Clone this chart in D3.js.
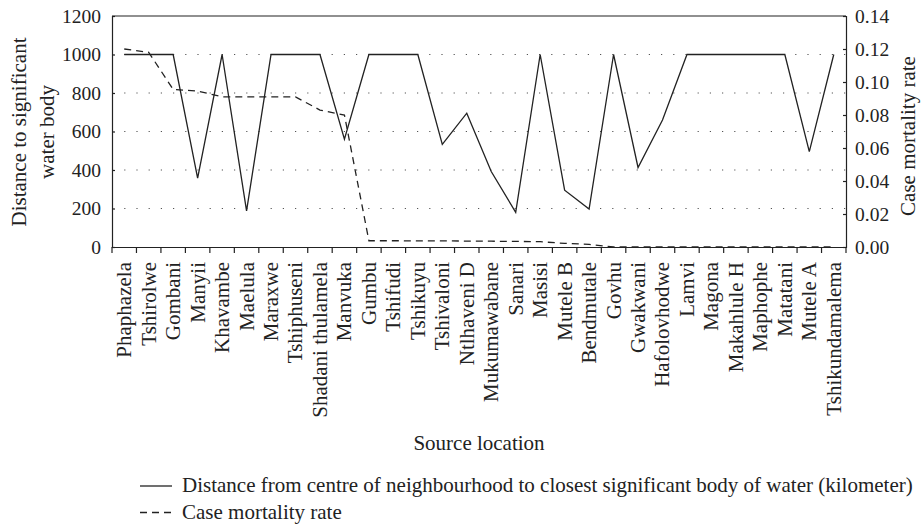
<!DOCTYPE html>
<html><head><meta charset="utf-8">
<script src="https://cdn.jsdelivr.net/npm/d3@7"></script>
<style>body{margin:0;background:#fff}svg{display:block}text{font-family:"Liberation Serif","Times New Roman",serif;fill:#222}</style>
</head><body>
<script>
const categories = ["Phaphazela","Tshirolwe","Gombani","Manyii","Khavambe","Maelula","Maraxwe","Tshiphuseni","Shadani thulamela","Manvuka","Gumbu","Tshifudi","Tshikuyu","Tshivaloni","Ntlhaveni D","Mukumawabane","Sanari","Masisi","Mutele B","Bendmutale","Govhu","Gwakwani","Hafolovhodwe","Lamvi","Magona","Makahlule H","Maphophe","Matatani","Mutele A","Tshikundamalema"];
const distance = [1000,1000,1000,358,1000,188,1000,1000,1000,560,1000,1000,1000,533,695,392,180,1000,295,197,1000,413,660,1000,1000,1000,1000,1000,495,1000];
const mortality = [0.120,0.118,0.0955,0.0945,0.091,0.091,0.091,0.091,0.083,0.080,0.0038,0.0038,0.0037,0.0037,0.0036,0.0035,0.0034,0.0032,0.0022,0.0016,0,0,0,0,0,0,0,0,0,0];
const leftTicks = [0,200,400,600,800,1000,1200];
const rightTicks = [0,0.02,0.04,0.06,0.08,0.10,0.12,0.14];
const legendLabels = ["Distance from centre of neighbourhood to closest significant body of water (kilometer)","Case mortality rate"];

const W=921,H=527, m={l:112,r:75,t:16,b:280};
const svg=d3.select("body").append("svg").attr("width",W).attr("height",H);
const x=d3.scaleBand().domain(categories).range([m.l,W-m.r]);
const y=d3.scaleLinear().domain([0,1200]).range([H-m.b,m.t]);
const y2=d3.scaleLinear().domain([0,0.14]).range([H-m.b,m.t]);
const ink="#222";

svg.append("g").selectAll("line").data(leftTicks.filter(d=>d>0&&d<1200)).join("line")
 .attr("x1",m.l).attr("x2",W-m.r).attr("y1",d=>y(d)).attr("y2",d=>y(d))
 .attr("stroke","#555").attr("stroke-width",1.2).attr("stroke-dasharray","1.2,11");

svg.append("line").attr("x1",m.l).attr("x2",W-m.r).attr("y1",m.t).attr("y2",m.t).attr("stroke",ink).attr("stroke-width",1.2);

const fsT=19.5, fs=21;
const gl=svg.append("g").attr("transform",`translate(${m.l},0)`).call(d3.axisLeft(y).tickValues(leftTicks).tickSize(-3).tickPadding(11).tickFormat(d3.format("d")));
const gr=svg.append("g").attr("transform",`translate(${W-m.r},0)`).call(d3.axisRight(y2).tickValues(rightTicks).tickSize(-3).tickPadding(9).tickFormat(d3.format(".2f")));
const gx=svg.append("g").attr("transform",`translate(0,${H-m.b})`).call(d3.axisBottom(x).tickSize(0).tickFormat(""));
gx.selectAll("line.b").data(d3.range(categories.length+1)).join("line").attr("class","b")
 .attr("x1",i=>m.l+i*x.step()).attr("x2",i=>m.l+i*x.step()).attr("y1",0).attr("y2",6).attr("stroke",ink).attr("stroke-width",1.2);
[gl,gr,gx].forEach(g=>{g.selectAll(".domain,.tick line").attr("stroke",ink).attr("stroke-width",1.2);g.selectAll("text").attr("font-size",fsT).attr("fill",ink).attr("font-family","Liberation Serif");});

svg.append("g").selectAll("text").data(categories).join("text")
 .attr("transform",d=>`translate(${x(d)+x.bandwidth()/2},${H-m.b+15}) rotate(-90)`)
 .attr("text-anchor","end").attr("dy","0.33em").attr("font-size",fs).text(d=>d);

svg.append("path").datum(distance).attr("fill","none").attr("stroke",ink).attr("stroke-width",1.3)
 .attr("d",d3.line().x((d,i)=>x(categories[i])+x.bandwidth()/2).y(d=>y(d)));
svg.append("path").datum(mortality).attr("fill","none").attr("stroke",ink).attr("stroke-width",1.3).attr("stroke-dasharray","7,5")
 .attr("d",d3.line().x((d,i)=>x(categories[i])+x.bandwidth()/2).y(d=>y2(d)));

svg.append("text").attr("transform","translate(26,132) rotate(-90)").attr("text-anchor","middle").attr("font-size",fs).text("Distance to significant");
svg.append("text").attr("transform","translate(54,132) rotate(-90)").attr("text-anchor","middle").attr("font-size",fs).text("water body");
svg.append("text").attr("transform","translate(915,136) rotate(-90)").attr("text-anchor","middle").attr("font-size",21).text("Case mortality rate");
svg.append("text").attr("x",479).attr("y",443).attr("text-anchor","middle").attr("dy","0.33em").attr("font-size",fs).text("Source location");

const lg=svg.append("g");
legendLabels.forEach((t,i)=>{
 const yy=486+i*26.5;
 lg.append("line").attr("x1",140).attr("x2",172).attr("y1",yy).attr("y2",yy).attr("stroke",ink).attr("stroke-width",1.3).attr("stroke-dasharray",i?"7,5":null);
 lg.append("text").attr("x",182).attr("y",yy).attr("dy","0.3em").attr("font-size",fs).text(t);
});
</script>
</body></html>
